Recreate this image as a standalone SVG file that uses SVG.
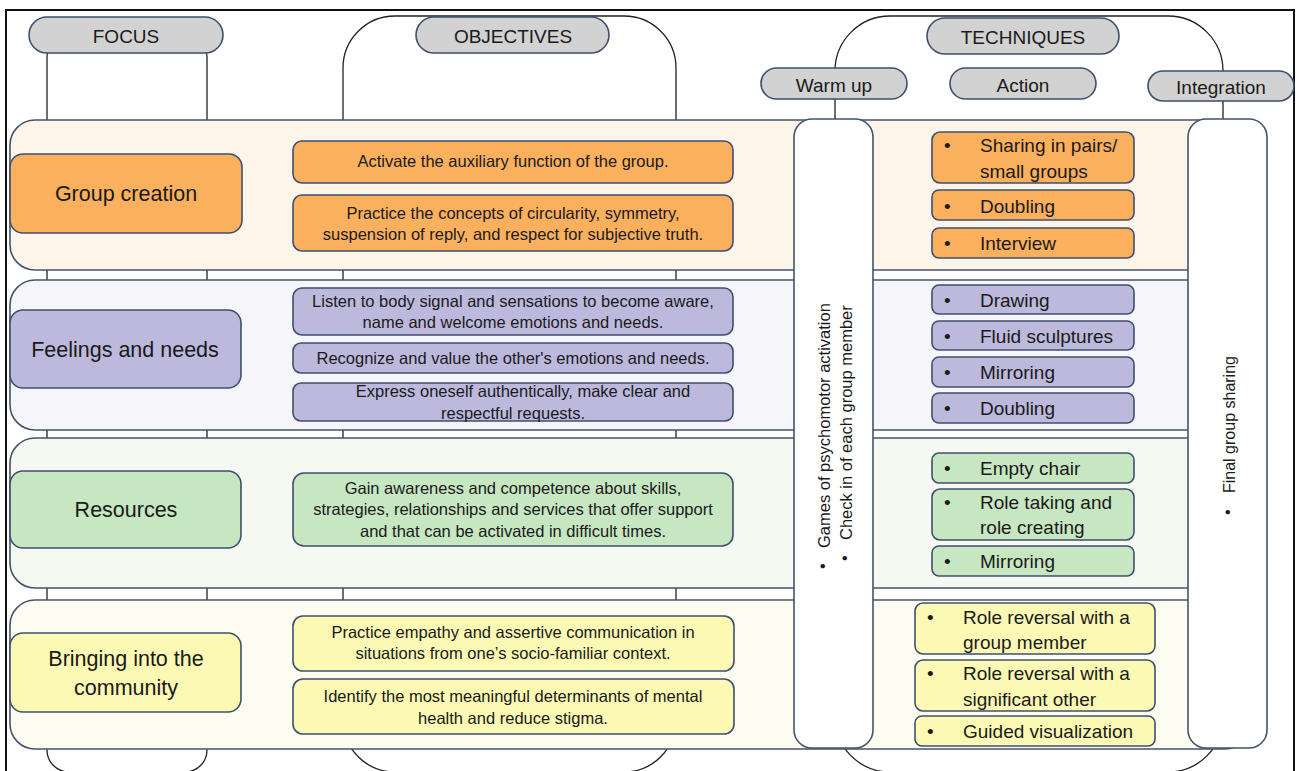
<svg xmlns="http://www.w3.org/2000/svg" width="1298" height="771" viewBox="0 0 1298 771">
<style>
text{font-family:"Liberation Sans",Arial,sans-serif;fill:#1a1a1a;dominant-baseline:central}
.col{fill:none;stroke:#222;stroke-width:1.3}
.pill{fill:#d2d2d2;stroke:#3c4f6e;stroke-width:1.6}
.ph{font-size:19px;text-anchor:middle}
.band{stroke:#44546a;stroke-width:1.6}
.b1{fill:#fdf5ea}.b2{fill:#f5f5fa}.b3{fill:#f6f8f2}.b4{fill:#fcfcf1}
.vcol{fill:#fff;stroke:#44546a;stroke-width:1.6}
.n{stroke:#3f4f6f;stroke-width:1.6}
.or{fill:#fbb05e}.lv{fill:#bdb9dc}.gr{fill:#c7e6c2}.ye{fill:#fcf9b4}
.fc{font-size:21.5px;text-anchor:middle}
.ob{font-size:16.5px;text-anchor:middle}
.tq{font-size:19px}
.vt{font-size:16.5px}
</style>
<rect width="1298" height="771" fill="#fff"/>
<rect x="6" y="10" width="1288" height="790" fill="none" stroke="#111" stroke-width="2"/>

<g id="columns">
<rect class="col" x="47" y="35" width="160" height="737" rx="22"/>
<rect class="col" x="343" y="16" width="333" height="756" rx="52"/>
<rect class="col" x="835" y="16" width="388" height="756" rx="55"/>
</g>

<g id="header-focus"><rect class="pill" x="29" y="17" width="194" height="36" rx="18"/><text class="ph" x="126" y="36">FOCUS</text></g>
<g id="header-objectives"><rect class="pill" x="416" y="17" width="193" height="36" rx="18"/><text class="ph" x="513" y="36">OBJECTIVES</text></g>
<g id="header-techniques"><rect class="pill" x="927" y="18" width="192" height="36" rx="18"/><text class="ph" x="1023" y="37">TECHNIQUES</text></g>
<g id="header-warmup"><rect class="pill" x="761" y="68" width="146" height="31" rx="15.5"/><text class="ph" x="834" y="85">Warm up</text></g>
<g id="header-action"><rect class="pill" x="950" y="68" width="146" height="31" rx="15.5"/><text class="ph" x="1023" y="85">Action</text></g>
<g id="header-integration"><rect class="pill" x="1148" y="71" width="146" height="30" rx="15"/><text class="ph" x="1221" y="87">Integration</text></g>

<g id="bands">
<rect class="band b1" x="10" y="120" width="1240" height="150" rx="25"/>
<rect class="band b2" x="10" y="280" width="1240" height="150" rx="25"/>
<rect class="band b3" x="10" y="438" width="1240" height="150" rx="25"/>
<rect class="band b4" x="10" y="600" width="1240" height="149" rx="25"/>
</g>

<g id="warmup-column">
<rect class="vcol" x="794" y="119" width="79" height="629" rx="18"/>
<text class="vt" transform="translate(822,566) rotate(-90)" text-anchor="middle">•</text>
<text class="vt" transform="translate(824,548) rotate(-90)">Games of psychomotor activation</text>
<text class="vt" transform="translate(844,558) rotate(-90)" text-anchor="middle">•</text>
<text class="vt" transform="translate(846,540) rotate(-90)">Check in of each group member</text>
</g>

<g id="integration-column">
<rect class="vcol" x="1188" y="119" width="79" height="629" rx="18"/>
<text class="vt" transform="translate(1227,512) rotate(-90)" text-anchor="middle">•</text>
<text style="font-size:16px" transform="translate(1229,493) rotate(-90)">Final group sharing</text>
</g>

<g id="focus-group-creation"><rect class="n or" x="10" y="154" width="232" height="79" rx="13"/><text class="fc" x="126" y="194">Group creation</text></g>
<g id="focus-feelings"><rect class="n lv" x="10" y="310" width="231" height="78" rx="13"/><text class="fc" x="125" y="350">Feelings and needs</text></g>
<g id="focus-resources"><rect class="n gr" x="10" y="471" width="231" height="77" rx="13"/><text class="fc" x="126" y="510">Resources</text></g>
<g id="focus-community"><rect class="n ye" x="10" y="633" width="231" height="79" rx="13"/><text class="fc" x="126" y="659">Bringing into the</text><text class="fc" x="126" y="688">community</text></g>

<g id="obj-1"><rect class="n or" x="293" y="141" width="440" height="42" rx="9"/><text class="ob" x="513" y="161">Activate the auxiliary function of the group.</text></g>
<g id="obj-2"><rect class="n or" x="293" y="195" width="440" height="56" rx="9"/><text class="ob" x="513" y="213">Practice the concepts of circularity, symmetry,</text><text class="ob" x="513" y="234">suspension of reply, and respect for subjective truth.</text></g>
<g id="obj-3"><rect class="n lv" x="293" y="288" width="440" height="47" rx="9"/><text class="ob" x="513" y="301">Listen to body signal and sensations to become aware,</text><text class="ob" x="513" y="322">name and welcome emotions and needs.</text></g>
<g id="obj-4"><rect class="n lv" x="293" y="343" width="440" height="30" rx="8"/><text class="ob" x="513" y="358">Recognize and value the other's emotions and needs.</text></g>
<g id="obj-5"><rect class="n lv" x="293" y="383" width="440" height="38" rx="8"/><text class="ob" x="523" y="391">Express oneself authentically, make clear and</text><text class="ob" x="513" y="413">respectful requests.</text></g>
<g id="obj-6"><rect class="n gr" x="293" y="473" width="440" height="73" rx="11"/><text class="ob" x="513" y="488">Gain awareness and competence about skills,</text><text class="ob" x="513" y="509">strategies, relationships and services that offer support</text><text class="ob" x="513" y="531">and that can be activated in difficult times.</text></g>
<g id="obj-7"><rect class="n ye" x="293" y="616" width="441" height="55" rx="10"/><text class="ob" x="513" y="632">Practice empathy and assertive communication in</text><text class="ob" x="513" y="653">situations from one’s socio-familiar context.</text></g>
<g id="obj-8"><rect class="n ye" x="293" y="679" width="441" height="55" rx="10"/><text class="ob" x="513" y="696">Identify the most meaningful determinants of mental</text><text class="ob" x="513" y="718">health and reduce stigma.</text></g>

<g id="tech-sharing"><rect class="n or" x="932" y="132" width="202" height="51" rx="8"/><text class="tq" x="944" y="145">•</text><text class="tq" x="980" y="145">Sharing in pairs/</text><text class="tq" x="980" y="171">small groups</text></g>
<g id="tech-doubling-1"><rect class="n or" x="932" y="190" width="202" height="30" rx="7"/><text class="tq" x="944" y="206">•</text><text class="tq" x="980" y="206">Doubling</text></g>
<g id="tech-interview"><rect class="n or" x="932" y="228" width="202" height="30" rx="7"/><text class="tq" x="944" y="243">•</text><text class="tq" x="980" y="243">Interview</text></g>
<g id="tech-drawing"><rect class="n lv" x="932" y="285" width="202" height="29" rx="7"/><text class="tq" x="944" y="300">•</text><text class="tq" x="980" y="300">Drawing</text></g>
<g id="tech-fluid"><rect class="n lv" x="932" y="321" width="202" height="29" rx="7"/><text class="tq" x="944" y="336">•</text><text class="tq" x="980" y="336">Fluid sculptures</text></g>
<g id="tech-mirroring-1"><rect class="n lv" x="932" y="357" width="202" height="30" rx="7"/><text class="tq" x="944" y="372">•</text><text class="tq" x="980" y="372">Mirroring</text></g>
<g id="tech-doubling-2"><rect class="n lv" x="932" y="393" width="202" height="30" rx="7"/><text class="tq" x="944" y="408">•</text><text class="tq" x="980" y="408">Doubling</text></g>
<g id="tech-empty-chair"><rect class="n gr" x="932" y="453" width="202" height="30" rx="7"/><text class="tq" x="944" y="468">•</text><text class="tq" x="980" y="468">Empty chair</text></g>
<g id="tech-role-taking"><rect class="n gr" x="932" y="489" width="202" height="51" rx="8"/><text class="tq" x="944" y="502">•</text><text class="tq" x="980" y="502">Role taking and</text><text class="tq" x="980" y="527">role creating</text></g>
<g id="tech-mirroring-2"><rect class="n gr" x="932" y="546" width="202" height="30" rx="7"/><text class="tq" x="944" y="561">•</text><text class="tq" x="980" y="561">Mirroring</text></g>
<g id="tech-role-rev-1"><rect class="n ye" x="915" y="603" width="240" height="51" rx="8"/><text class="tq" x="927" y="617">•</text><text class="tq" x="963" y="617">Role reversal with a</text><text class="tq" x="963" y="642">group member</text></g>
<g id="tech-role-rev-2"><rect class="n ye" x="915" y="660" width="240" height="51" rx="8"/><text class="tq" x="927" y="673">•</text><text class="tq" x="963" y="673">Role reversal with a</text><text class="tq" x="963" y="699">significant other</text></g>
<g id="tech-guided"><rect class="n ye" x="915" y="716" width="240" height="30" rx="7"/><text class="tq" x="927" y="731">•</text><text class="tq" x="963" y="731">Guided visualization</text></g>
</svg>
